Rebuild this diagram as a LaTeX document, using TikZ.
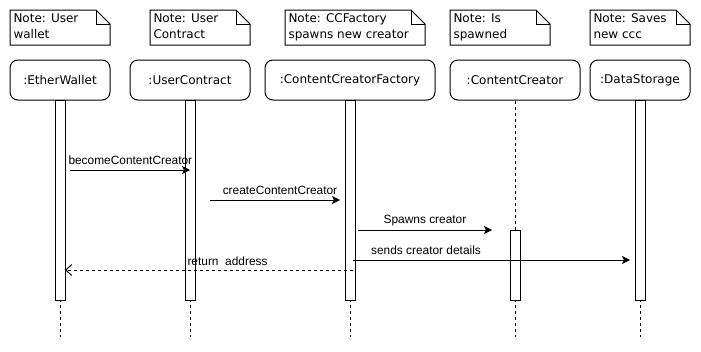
\documentclass[tikz,border=0pt]{standalone}
\usepackage{fontspec}
\setmainfont{DejaVu Sans}
\newfontfamily\msgfont{Liberation Sans}
\usetikzlibrary{arrows.meta}
\begin{document}
\begin{tikzpicture}[x=1pt,y=-1pt,line width=1pt,
  headbox/.style={draw,rounded corners=8pt,minimum height=40pt,inner sep=0pt,
    font=\fontsize{12}{14}\selectfont},
  notetext/.style={anchor=north west,align=left,inner sep=0pt,
    font=\fontsize{12}{16}\selectfont},
  actbar/.style={draw,fill=white},
  lifeline/.style={dash pattern=on 3pt off 3pt},
  msg/.style={-{Stealth[length=8pt,width=8pt,inset=2pt]}},
  retmsg/.style={dash pattern=on 3pt off 3pt,-{Straight Barb[length=6pt,width=11pt]}},
  msglabel/.style={inner sep=0pt,font=\msgfont\fontsize{11.9}{13}\selectfont}]
\useasboundingbox (0,0) rectangle (701,351);

% note shapes with folded corner: \notebox{x1}{x2}
\newcommand\notebox[2]{%
  \draw (#1,10) -- (#2-14,10) -- (#2,24) -- (#2,45) -- (#1,45) -- cycle;
  \draw (#2-14,10) -- (#2-14,24) -- (#2,24);}
\notebox{10}{110}
\notebox{150}{250}
\notebox{285}{425}
\notebox{450}{550}
\notebox{590}{690}
\node[notetext] (n1) at (13,13) {Note: User\\wallet};
\node[notetext] (n2) at (153,13) {Note: User\\Contract};
\node[notetext] (n3) at (288,13) {Note: CCFactory\\spawns new creator};
\node[notetext] (n4) at (453,13) {Note: Is\\spawned};
\node[notetext] (n5) at (593,13) {Note: Saves\\new ccc};

% lifeline heads
\node[headbox,minimum width=100pt] (h1) at (60,80) {:EtherWallet};
\node[headbox,minimum width=120pt] (h2) at (190,80) {:UserContract};
\node[headbox,minimum width=170pt] (h3) at (350,80) {:ContentCreatorFactory};
\node[headbox,minimum width=130pt] (h4) at (515,80) {:ContentCreator};
\node[headbox,minimum width=100pt] (h5) at (640,80) {:DataStorage};

% dashed lifelines
\coordinate (e1) at (60,337);
\coordinate (e2) at (190,337);
\coordinate (e3) at (350,337);
\coordinate (e4) at (515,337);
\coordinate (e5) at (640,337);
\draw[lifeline] (h1.south) -- (e1);
\draw[lifeline] (h2.south) -- (e2);
\draw[lifeline] (h3.south) -- (e3);
\draw[lifeline] (h4.south) -- (e4);
\draw[lifeline] (h5.south) -- (e5);

% activation bars
\draw[actbar] (55,100) rectangle (65,300);
\draw[actbar] (185,100) rectangle (195,300);
\draw[actbar] (345,100) rectangle (355,300);
\draw[actbar] (510,230) rectangle (520,300);
\draw[actbar] (635,100) rectangle (645,300);

% messages
\coordinate (m1a) at (70,170);   \coordinate (m1b) at (190,170);
\coordinate (m2a) at (210,200);  \coordinate (m2b) at (340,200);
\coordinate (m3a) at (358,230);  \coordinate (m3b) at (492,230);
\coordinate (m4a) at (353,260);  \coordinate (m4b) at (630,260);
\coordinate (m5a) at (353,270);  \coordinate (m5b) at (65,270);
\draw[msg] (m1a) -- (m1b);
\draw[msg] (m2a) -- (m2b);
\draw[msg] (m3a) -- (m3b);
\draw[msg] (m4a) -- (m4b);
\draw[retmsg] (m5a) -- (m5b);

\node[msglabel,anchor=west] (l1) at (68,160.5) {becomeContentCreator};
\node[msglabel] (l2) at (280,190.5) {createContentCreator};
\node[msglabel] (l3) at (425,220.5) {Spawns creator};
\node[msglabel] (l4) at (426,250.5) {sends creator details};
\node[msglabel,anchor=west] (l5) at (187,261) {return\ \ address};
\end{tikzpicture}
\end{document}
